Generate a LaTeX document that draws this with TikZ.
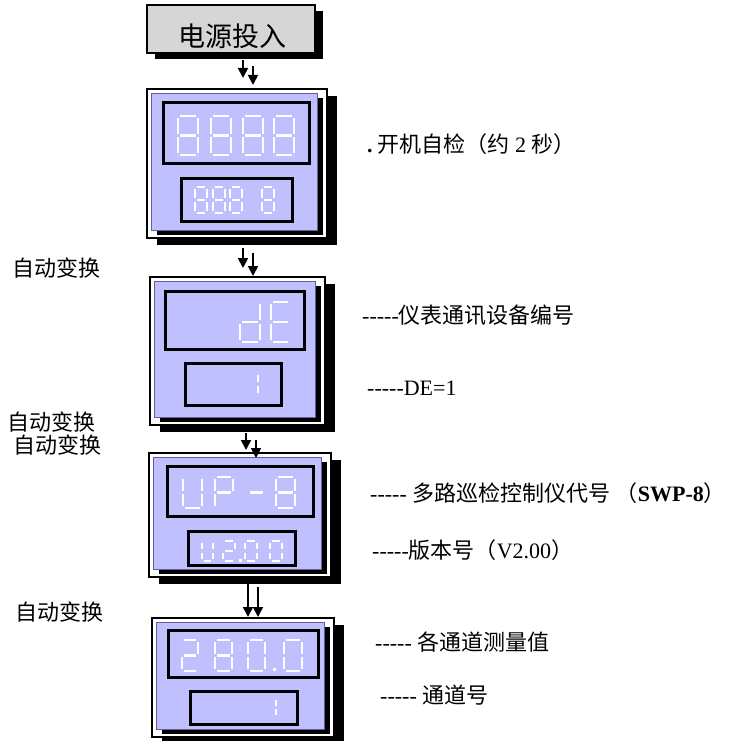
\documentclass[tikz,border=0pt]{standalone}
\usepackage{fontspec}
\setmainfont{Liberation Serif}
\newfontfamily\cjk{Noto Sans CJK SC}
\usetikzlibrary{arrows.meta,shadows}
\newcommand{\zh}[1]{{\cjk #1}}
\newcommand{\hy}{\mbox{-}}
\newcommand{\dsh}{\hy\hy\hy\hy\hy}
\definecolor{lcdblue}{RGB}{192,192,255}
\definecolor{lcdedge}{RGB}{96,96,150}
% seven segment pieces
\newcommand{\dsega}{\draw[segline] (\dG,0) -- (\dW-\dG,0);}
\newcommand{\dsegb}{\draw[segline] (\dW,\dG) -- (\dW,\dH/2-\dG);}
\newcommand{\dsegc}{\draw[segline] (\dW,\dH/2+\dG) -- (\dW,\dH-\dG);}
\newcommand{\dsegd}{\draw[segline] (\dG,\dH) -- (\dW-\dG,\dH);}
\newcommand{\dsege}{\draw[segline] (0,\dH/2+\dG) -- (0,\dH-\dG);}
\newcommand{\dsegf}{\draw[segline] (0,\dG) -- (0,\dH/2-\dG);}
\newcommand{\dsegg}{\draw[segline] (\dG,\dH/2) -- (\dW-\dG,\dH/2);}
\newcommand{\sdigit}[5]{\begin{scope}[shift={(#1,#2)}]\def\dW{#3}\def\dH{#4}\def\dG{1.8}\foreach \s in {#5}{\csname dseg\s\endcsname}\end{scope}}
\newcommand{\panel}[5]{%
  \node[frame, minimum width={(#4-#2)*1pt}, minimum height={(#5-#3)*1pt}] (#1) at (#2,#3) {};
  \node[bluep, minimum width={(#4-#2-14)*1pt}, minimum height={(#5-#3-12)*1pt}] (#1b) at (#2+4,#3+4) {};}
\newcommand{\disp}[5]{%
  \node[dispbox, minimum width={(#4-#2)*1pt}, minimum height={(#5-#3)*1pt}] (#1) at (#2,#3) {};}
\tikzset{
  frame/.style={anchor=north west, inner sep=0, outer sep=0, draw=black, line width=1.3pt, fill=white,
    drop shadow={shadow xshift=10pt, shadow yshift=-7pt, fill=black, opacity=1}},
  bluep/.style={anchor=north west, inner sep=0, outer sep=0, draw=lcdedge, line width=0.8pt, fill=lcdblue,
    drop shadow={shadow xshift=6pt, shadow yshift=-5pt, fill=black, opacity=1}},
  dispbox/.style={anchor=north west, inner sep=0, outer sep=0, draw=black, line width=3pt, fill=lcdblue},
  topbox/.style={inner sep=0, outer sep=0, draw=black, line width=1.3pt, fill=black!16,
    minimum width=168pt, minimum height=48pt,
    drop shadow={shadow xshift=8pt, shadow yshift=-6pt, fill=black, opacity=1}},
  segline/.style={draw=white, line width=2.2pt},
  arr/.style={-{Triangle[length=10pt,width=10pt]}, line width=1.8pt},
  lbl/.style={anchor=base west, inner sep=0, font=\fontsize{22}{26}\selectfont},
}
\begin{document}
\begin{tikzpicture}[x=1pt,y=-1pt]
\useasboundingbox (0,0) rectangle (744,741);
% top box
\node[topbox] (top) at (231,29) {};
\node[inner sep=0, font=\fontsize{27}{30}\selectfont\cjk] (toptxt) at (232,36) {电源投入};
% panel 1
\panel{p1}{147}{89}{327}{238}
\disp{p1u}{163}{103}{309}{163}
\disp{p1l}{181}{178}{292}{221}
\sdigit{178}{116}{20}{39}{a,b,c,d,e,f,g}
\sdigit{211}{116}{20}{39}{a,b,c,d,e,f,g}
\sdigit{243}{116}{20}{39}{a,b,c,d,e,f,g}
\sdigit{274}{116}{20}{39}{a,b,c,d,e,f,g}
\begin{scope}[segline/.append style={line width=1.7pt}]
\sdigit{195}{187}{12}{26}{a,b,c,d,e,f,g}
\sdigit{213}{187}{12}{26}{a,b,c,d,e,f,g}
\sdigit{230}{187}{12}{26}{a,b,c,d,e,f,g}
\sdigit{262}{187}{12}{26}{a,b,c,d,e,f,g}
\end{scope}
% panel 2
\panel{p2}{150}{277}{325}{425}
\disp{p2u}{165}{291}{304}{349}
\disp{p2l}{185}{363}{281}{405}
\sdigit{240}{302}{20}{40}{b,c,d,e,g}
\sdigit{271}{302}{19}{40}{a,d,e,f,g}
\begin{scope}[segline/.append style={line width=1.7pt}]
\sdigit{247}{373}{11}{22}{b,c}
\end{scope}
% panel 3
\panel{p3}{149}{453}{331}{577}
\disp{p3u}{167}{466}{313}{516}
\disp{p3l}{188}{531}{295}{565}
\sdigit{183}{477}{19}{31}{b,c,d,e,f}
\sdigit{215}{477}{18}{31}{a,b,e,f,g}
\sdigit{248}{477}{17}{31}{g}
\sdigit{276}{477}{19}{31}{a,b,c,d,e,f,g}
\begin{scope}[segline/.append style={line width=1.7pt}]
\sdigit{202}{541}{11}{20}{b,c,d,e,f}
\sdigit{223}{541}{12}{20}{a,b,g,e,d}
\sdigit{245}{541}{12}{20}{a,b,c,d,e,f}
\sdigit{270}{541}{12}{20}{a,b,c,d,e,f}
\end{scope}
\fill[white] (239,559) rectangle (242,562);
% panel 4
\panel{p4}{152}{618}{334}{737}
\disp{p4u}{168}{630}{318}{677}
\disp{p4l}{190}{691}{297}{724}
\sdigit{182}{640}{16}{31}{a,b,g,e,d}
\sdigit{215}{640}{17}{31}{a,b,c,d,e,f,g}
\sdigit{248}{640}{17}{31}{a,b,c,d,e,f}
\sdigit{284}{640}{18}{31}{a,b,c,d,e,f}
\fill[white] (273,668) rectangle (276,671);
\begin{scope}[segline/.append style={line width=1.7pt}]
\sdigit{265}{698}{11}{19}{b,c}
\end{scope}
% arrows
\coordinate (a1ls) at (243,60); \coordinate (a1le) at (243,78);
\coordinate (a1rs) at (253,66); \coordinate (a1re) at (253,85);
\coordinate (a2ls) at (243,248); \coordinate (a2le) at (243,268);
\coordinate (a2rs) at (253,253); \coordinate (a2re) at (253,276);
\coordinate (a3ls) at (246,433); \coordinate (a3le) at (246,450);
\coordinate (a3rs) at (256,440); \coordinate (a3re) at (256,458);
\coordinate (a4ls) at (248,583); \coordinate (a4le) at (248,617);
\coordinate (a4rs) at (258,587); \coordinate (a4re) at (258,617);
\draw[arr] (a1ls) -- (a1le);
\draw[arr] (a1rs) -- (a1re);
\draw[arr] (a2ls) -- (a2le);
\draw[arr] (a2rs) -- (a2re);
\draw[arr] (a3ls) -- (a3le);
\draw[arr] (a3rs) -- (a3re);
\draw[arr] (a4ls) -- (a4le);
\draw[arr] (a4rs) -- (a4re);
% left labels
\node[lbl] (L1) at (12,276) {\zh{自动变换}};
\node[lbl] (L2) at (7,430) {\zh{自动变换}};
\node[lbl] (L3) at (13,453) {\zh{自动变换}};
\node[lbl] (L4) at (15,620) {\zh{自动变换}};
% right labels
\node[lbl] (R1) at (367,153) {{\bfseries .}\hspace{5pt}\zh{开机自检（约}~2~\zh{秒）}};
\node[lbl] (R2) at (362,323) {\dsh\zh{仪表通讯设备编号}};
\node[lbl] (R3) at (367,395) {\dsh DE=1};
\node[lbl] (R4) at (370,501) {\dsh{} \zh{多路巡检控制仪代号}~\zh{（}\textbf{SWP-8}\zh{）}};
\node[lbl] (R5) at (372,558) {\dsh\zh{版本号（}V2.00\zh{）}};
\node[lbl] (R6) at (375,650) {\dsh{} \zh{各通道测量值}};
\node[lbl] (R7) at (380,703) {\dsh{} \zh{通道号}};
\end{tikzpicture}
\end{document}
